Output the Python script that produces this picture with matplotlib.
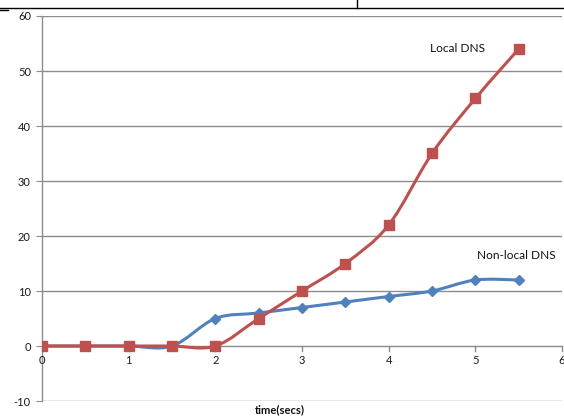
import numpy as np
import matplotlib
matplotlib.use('Agg')
import matplotlib.pyplot as plt
from matplotlib.path import Path
from matplotlib.patches import PathPatch
from matplotlib.lines import Line2D

time_secs = [0, 0.5, 1, 1.5, 2, 2.5, 3, 3.5, 4, 4.5, 5, 5.5]
local_dns = [0, 0, 0, 0, 0, 5, 10, 15, 22, 35, 45, 54]
nonlocal_dns = [0, 0, 0, 0, 5, 6, 7, 8, 9, 10, 12, 12]
x_ticks = [0, 1, 2, 3, 4, 5, 6]
y_ticks = [-10, 0, 10, 20, 30, 40, 50, 60]

RED = '#C0504D'
BLUE = '#4F81BD'
GRID = '#8C8C8C'
FONT = ['Lato', 'DejaVu Sans']


def smooth_path(xs, ys):
    # excel style smoothed line: cubic bezier with catmull-rom control points
    pts = np.column_stack([xs, ys]).astype(float)
    verts = [pts[0]]
    codes = [Path.MOVETO]
    n = len(pts)
    for i in range(n - 1):
        p0 = pts[i - 1] if i > 0 else pts[i]
        p1 = pts[i]
        p2 = pts[i + 1]
        p3 = pts[i + 2] if i + 2 < n else pts[i + 1]
        c1 = p1 + (p2 - p0) / 6.0
        c2 = p2 - (p3 - p1) / 6.0
        verts += [c1, c2, p2]
        codes += [Path.CURVE4] * 3
    return Path(verts, codes)


fig = plt.figure(figsize=(5.64, 4.19), dpi=100)
ax = fig.add_axes([42 / 564, 18 / 419, 520 / 564, 385 / 419])
ax.set_xlim(0, 6)
ax.set_ylim(-10, 60)

for sp in ['top', 'right', 'bottom']:
    ax.spines[sp].set_visible(False)
ax.spines['left'].set_color(GRID)
ax.spines['left'].set_linewidth(1.0)

for yv in y_ticks:
    if yv != 0:
        ax.axhline(yv, color=GRID, lw=1.0, zorder=0)
ax.axhline(0, color=GRID, lw=1.0, zorder=1)

ax.set_yticks(y_ticks)
ax.set_yticklabels([str(v) for v in y_ticks], fontsize=8, family=FONT, color='#1a1a1a')
ax.tick_params(axis='y', length=4, color=GRID, pad=4)

# x ticks sit on the zero line
ax.set_xticks([])
for xv in x_ticks:
    ax.plot([xv, xv], [0, -0.9], color=GRID, lw=1.0, clip_on=False, zorder=1)
    ax.text(xv, -2.7, str(xv), ha='center', va='center', fontsize=8,
            family=FONT, color='#1a1a1a')

for ys, col, mk, ms in [(nonlocal_dns, BLUE, 'D', 5.5), (local_dns, RED, 's', 6.5)]:
    ax.add_patch(PathPatch(smooth_path(time_secs, ys), fill=False, edgecolor=col, lw=2.2,
                           capstyle='round', joinstyle='round', zorder=3))
    ax.plot(time_secs, ys, linestyle='none', marker=mk, markersize=ms, color=col, zorder=4)

ax.text(5.11, 54.0, 'Local DNS', ha='right', va='center', fontsize=8.6, family=FONT, color='#111111')
ax.text(5.93, 16.5, 'Non-local DNS', ha='right', va='center', fontsize=8.6, family=FONT, color='#111111')

fig.text(280 / 564, 1 - 410 / 419, 'time(secs)', ha='center', va='center', fontsize=8,
         fontweight='bold', family=FONT, color='#111111')

# cropped frame remnants at the top of the screenshot
fig.add_artist(Line2D([0, 1], [1 - 8 / 419, 1 - 8 / 419], color='black', lw=1.0))
fig.add_artist(Line2D([357 / 564, 357 / 564], [1, 1 - 8 / 419], color='black', lw=1.0))
fig.add_artist(Line2D([0, 8 / 564], [1 - 10 / 419, 1 - 10 / 419], color='black', lw=1.0))

fig.savefig('out.png', dpi=100)
